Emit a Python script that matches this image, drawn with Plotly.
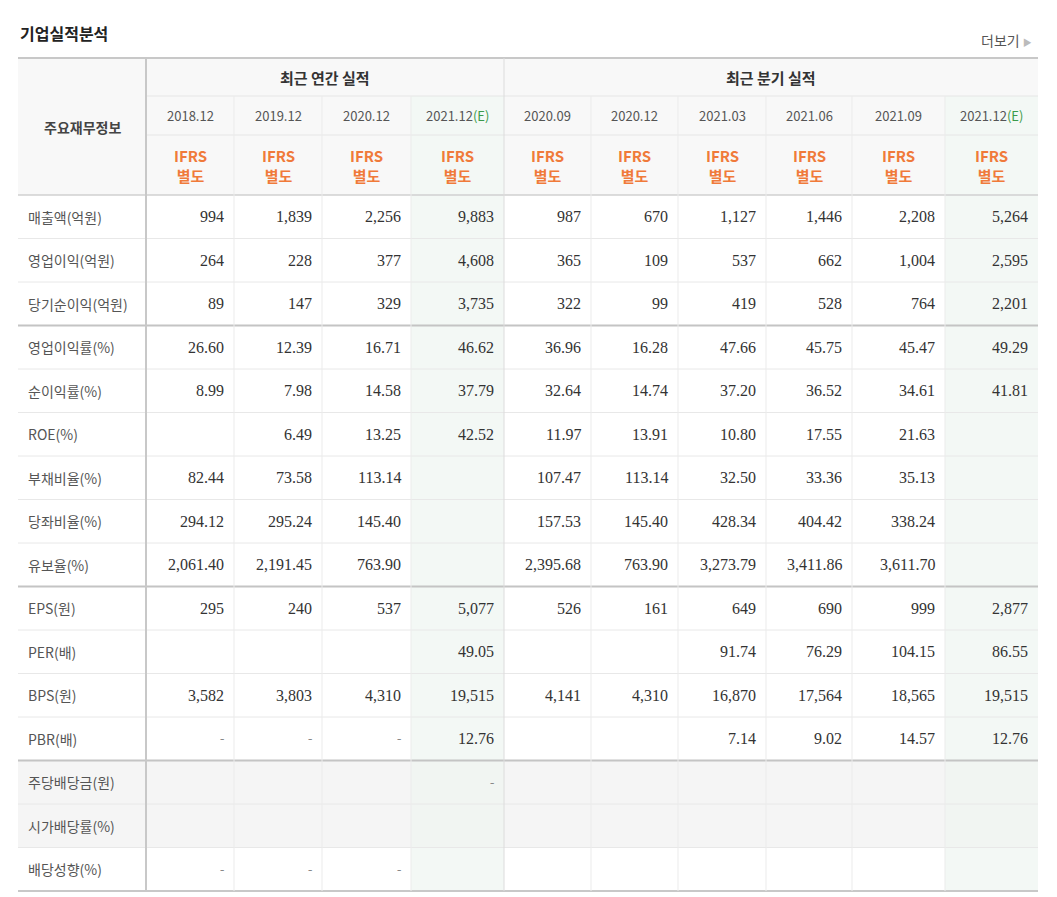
import plotly.graph_objects as go

col_groups = ["최근 연간 실적", "최근 분기 실적"]
periods = ["2018.12", "2019.12", "2020.12", "2021.12", "2020.09", "2020.12", "2021.03", "2021.06", "2021.09", "2021.12"]
estimate = [False, False, False, True, False, False, False, False, False, True]
row_labels = ["매출액(억원)", "영업이익(억원)", "당기순이익(억원)", "영업이익률(%)", "순이익률(%)", "ROE(%)",
              "부채비율(%)", "당좌비율(%)", "유보율(%)", "EPS(원)", "PER(배)", "BPS(원)", "PBR(배)",
              "주당배당금(원)", "시가배당률(%)", "배당성향(%)"]
values = [
    ["994", "1,839", "2,256", "9,883", "987", "670", "1,127", "1,446", "2,208", "5,264"],
    ["264", "228", "377", "4,608", "365", "109", "537", "662", "1,004", "2,595"],
    ["89", "147", "329", "3,735", "322", "99", "419", "528", "764", "2,201"],
    ["26.60", "12.39", "16.71", "46.62", "36.96", "16.28", "47.66", "45.75", "45.47", "49.29"],
    ["8.99", "7.98", "14.58", "37.79", "32.64", "14.74", "37.20", "36.52", "34.61", "41.81"],
    ["", "6.49", "13.25", "42.52", "11.97", "13.91", "10.80", "17.55", "21.63", ""],
    ["82.44", "73.58", "113.14", "", "107.47", "113.14", "32.50", "33.36", "35.13", ""],
    ["294.12", "295.24", "145.40", "", "157.53", "145.40", "428.34", "404.42", "338.24", ""],
    ["2,061.40", "2,191.45", "763.90", "", "2,395.68", "763.90", "3,273.79", "3,411.86", "3,611.70", ""],
    ["295", "240", "537", "5,077", "526", "161", "649", "690", "999", "2,877"],
    ["", "", "", "49.05", "", "", "91.74", "76.29", "104.15", "86.55"],
    ["3,582", "3,803", "4,310", "19,515", "4,141", "4,310", "16,870", "17,564", "18,565", "19,515"],
    ["-", "-", "-", "12.76", "", "", "7.14", "9.02", "14.57", "12.76"],
    ["", "", "", "-", "", "", "", "", "", ""],
    ["", "", "", "", "", "", "", "", "", ""],
    ["-", "-", "-", "", "", "", "", "", "", ""],
]
group_breaks = [2, 8, 12]   # thick line after these rows
gray_rows = [13, 14]

X0, XL = 18, 146
col_edges = [146, 234, 322, 411, 504, 591, 678, 766, 852, 945, 1038]
Y_TOP, Y_H1, Y_H2, Y_H3 = 58, 96, 135, 195
ROW_H = 43.5
Y_END = Y_H3 + ROW_H * len(row_labels)

KR = "Noto Sans CJK KR, Noto Sans, sans-serif"
NUM = "Liberation Serif, serif"
shapes, ann = [], []

def rect(x0, y0, x1, y1, color):
    shapes.append(dict(type="rect", xref="x", yref="y", x0=x0, x1=x1, y0=y0, y1=y1,
                       fillcolor=color, line=dict(width=0), layer="below"))

def line(x0, y0, x1, y1, color, w):
    shapes.append(dict(type="line", xref="x", yref="y", x0=x0, x1=x1, y0=y0, y1=y1,
                       line=dict(color=color, width=w)))

def text(x, y, s, size=14, color="#444", font=KR, xanchor="center", bold=False):
    ann.append(dict(x=x, y=y, xref="x", yref="y", text=f"<b>{s}</b>" if bold else s, showarrow=False,
                    xanchor=xanchor, yanchor="middle", font=dict(size=size, color=color, family=font)))

rect(X0, Y_TOP, col_edges[-1], Y_H3, "#f8f8f8")
for i, e in enumerate(estimate):
    if e:
        rect(col_edges[i], Y_H1, col_edges[i + 1], Y_END, "#f3f8f5")
for r in gray_rows:
    y0 = Y_H3 + r * ROW_H
    rect(X0, y0, col_edges[-1], y0 + ROW_H, "#f5f5f5")
    for i, e in enumerate(estimate):
        if e:
            rect(col_edges[i], y0, col_edges[i + 1], y0 + ROW_H, "#f1f5f2")

line(X0, Y_TOP, col_edges[-1], Y_TOP, "#c8c8c8", 2)
line(XL, Y_H1, col_edges[-1], Y_H1, "#e6e6e6", 1)
line(XL, Y_H2, col_edges[-1], Y_H2, "#e6e6e6", 1)
line(X0, Y_H3, col_edges[-1], Y_H3, "#d0d0d0", 1.5)
for r in range(1, len(row_labels)):
    y = Y_H3 + r * ROW_H
    if (r - 1) in group_breaks:
        line(X0, y, col_edges[-1], y, "#c4c4c4", 2)
    else:
        line(X0, y, col_edges[-1], y, "#e8e8e8", 1)
line(X0, Y_END, col_edges[-1], Y_END, "#c8c8c8", 2)

line(XL, Y_TOP, XL, Y_END, "#c8c8c8", 2)
line(col_edges[4], Y_TOP, col_edges[4], Y_END, "#dcdcdc", 1)
for i, xe in enumerate(col_edges[1:-1], start=1):
    if i != 4:
        line(xe, Y_H1, xe, Y_END, "#ebebeb", 1)

text(X0, 33, "기업실적분석", size=16, color="#222", xanchor="left", bold=True)
text(1034, 40, "더보기 <span style='color:#bbb;font-size:9px'>▶</span>", size=14, color="#555", xanchor="right")

text((X0 + XL) / 2, (Y_TOP + Y_H3) / 2, "주요재무정보", size=14, color="#444", bold=True)
text((col_edges[0] + col_edges[4]) / 2, (Y_TOP + Y_H1) / 2, col_groups[0], size=15, color="#333", bold=True)
text((col_edges[4] + col_edges[10]) / 2, (Y_TOP + Y_H1) / 2, col_groups[1], size=15, color="#333", bold=True)
for i, p in enumerate(periods):
    cx = (col_edges[i] + col_edges[i + 1]) / 2
    s = p + ("<span style='color:#3a9a4a'>(E)</span>" if estimate[i] else "")
    text(cx, (Y_H1 + Y_H2) / 2, s, size=13, color="#555", font=KR)
    text(cx, (Y_H2 + Y_H3) / 2, "IFRS<br>별도", size=15, color="#f07a3a", bold=True)

for r, lab in enumerate(row_labels):
    cy = Y_H3 + r * ROW_H + ROW_H / 2
    text(X0 + 8, cy, lab, size=14, color="#555", xanchor="left")
    for i, v in enumerate(values[r]):
        if v:
            text(col_edges[i + 1] - 8, cy, v, size=16 if v != "-" else 13,
                 color="#333" if v != "-" else "#888", font=NUM, xanchor="right")

fig = go.Figure()
# page has an 8px body margin: axes are set so one unit = one page pixel
fig.update_layout(width=1035, height=885, margin=dict(l=0, r=0, t=0, b=0),
                  paper_bgcolor="white", plot_bgcolor="white", shapes=shapes, annotations=ann,
                  xaxis=dict(range=[8, 1043], visible=False, fixedrange=True),
                  yaxis=dict(range=[893, 8], visible=False, fixedrange=True), showlegend=False)
fig.write_html("out.html", config={"displayModeBar": False})
